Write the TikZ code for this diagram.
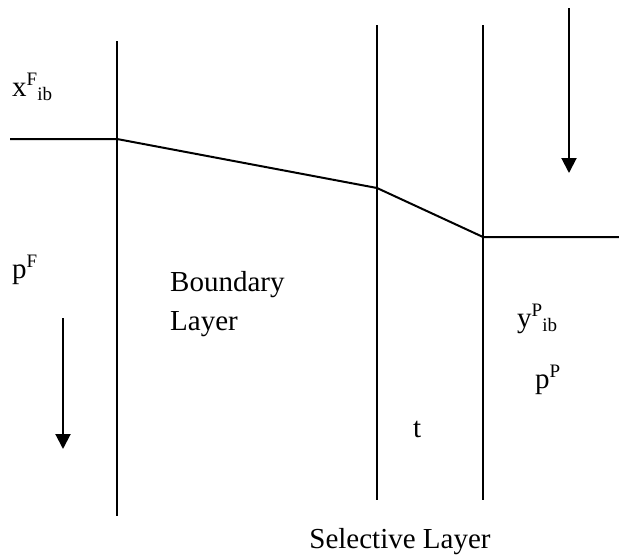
\documentclass[tikz,border=0pt]{standalone}
\usepackage{fontspec}
\setmainfont{Liberation Serif}
\usetikzlibrary{arrows.meta}
\newcommand{\supsub}[3]{#1\raisebox{11pt}{\fontsize{19}{19}\selectfont #2}\raisebox{-4pt}{\fontsize{19}{19}\selectfont #3}}
\begin{document}
\begin{tikzpicture}[x=1pt,y=-1pt,
  wall/.style={line width=2pt},
  flow/.style={line width=2pt,-{Triangle[width=15pt,length=15pt]}},
  lbl/.style={inner sep=0pt,anchor=base west,font=\fontsize{29}{34}\selectfont}]
\useasboundingbox (0,0) rectangle (619,557);
% walls
\coordinate (w1t) at (117,41);  \coordinate (w1b) at (117,516);
\coordinate (w2t) at (377,25);  \coordinate (w2b) at (377,500);
\coordinate (w3t) at (483,25);  \coordinate (w3b) at (483,500);
\draw[wall] (w1t) -- (w1b);
\draw[wall] (w2t) -- (w2b);
\draw[wall] (w3t) -- (w3b);
% profile
\coordinate (p0) at (10,139);
\coordinate (p1) at (117,139);
\coordinate (p2) at (377,188);
\coordinate (p3) at (483,237);
\coordinate (p4) at (619,237);
\draw[wall] (p0) -- (p1) -- (p2) -- (p3) -- (p4);
% flow arrows
\coordinate (a1s) at (569,8);  \coordinate (a1e) at (569,173);
\coordinate (a2s) at (63,318); \coordinate (a2e) at (63,449);
\draw[flow] (a1s) -- (a1e);
\draw[flow] (a2s) -- (a2e);
% labels
\node[lbl] (xf) at (12,96) {\supsub{x}{F}{ib}};
\node[lbl] (pf) at (12,278) {\supsub{p}{F}{}};
\node[lbl] (bl1) at (170,291) {Boundary};
\node[lbl] (bl2) at (170,330) {Layer};
\node[lbl] (yp) at (517,327) {\supsub{y}{P}{ib}};
\node[lbl] (pp) at (535,388) {\supsub{p}{P}{}};
\node[lbl] (t) at (413,437) {t};
\node[lbl,anchor=base] (sl) at (400,548) {Selective Layer};
\end{tikzpicture}
\end{document}
